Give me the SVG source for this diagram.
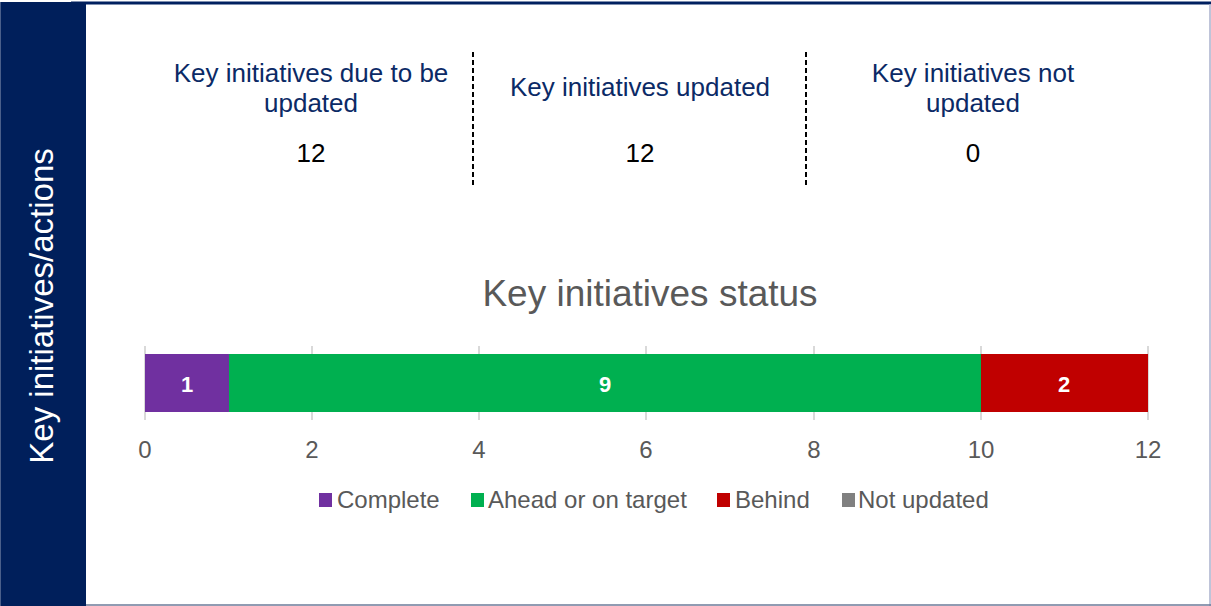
<svg xmlns="http://www.w3.org/2000/svg" width="1211" height="606" viewBox="0 0 1211 606">
<style>
.hdr{font-family:"Liberation Sans",Arial,sans-serif;font-size:26px;fill:#0b2a66;text-anchor:middle}
.num{font-family:"Liberation Sans",Arial,sans-serif;font-size:26px;fill:#000;text-anchor:middle}
.ax{font-family:"Liberation Sans",Arial,sans-serif;font-size:24px;fill:#595959;text-anchor:middle}
.lg{font-family:"Liberation Sans",Arial,sans-serif;font-size:24px;fill:#595959}
.bl{font-family:"Liberation Sans",Arial,sans-serif;font-size:22px;font-weight:bold;fill:#fff;text-anchor:middle}
.grid{stroke:#d9d9d9;stroke-width:2}
.dash{stroke:#000;stroke-width:2;stroke-dasharray:5 3}
</style>
<rect x="0" y="0" width="1211" height="606" fill="#fff"/>
<g id="frame">
<line x1="71" y1="3" x2="1211" y2="3" stroke="#002060" stroke-width="3"/>
<line x1="1210" y1="4" x2="1210" y2="606" stroke="#aab1cc" stroke-width="1.5"/>
<line x1="86" y1="605" x2="1211" y2="605" stroke="#6b7a99" stroke-width="1.5"/>
<rect x="0" y="2" width="86" height="604" fill="#001f5b"/>
<line x1="0.5" y1="2" x2="0.5" y2="606" stroke="#4a5f8a" stroke-width="1"/>
<text transform="translate(53,306) rotate(-90)" font-family="'Liberation Sans',Arial,sans-serif" font-size="33" fill="#fff" text-anchor="middle">Key initiatives/actions</text>
</g>
<g id="kpi-due">
<text class="hdr" x="311" y="82">Key initiatives due to be</text>
<text class="hdr" x="311" y="112">updated</text>
<text class="num" x="311" y="162">12</text>
</g>
<g id="kpi-updated">
<text class="hdr" x="640" y="96">Key initiatives updated</text>
<text class="num" x="640" y="162">12</text>
</g>
<g id="kpi-not">
<text class="hdr" x="973" y="82">Key initiatives not</text>
<text class="hdr" x="973" y="112">updated</text>
<text class="num" x="973" y="162">0</text>
</g>
<g id="dividers">
<line class="dash" x1="473" y1="52" x2="473" y2="185"/>
<line class="dash" x1="806" y1="52" x2="806" y2="185"/>
</g>
<g id="chart">
<text x="650" y="306" font-family="'Liberation Sans',Arial,sans-serif" font-size="37" fill="#595959" text-anchor="middle">Key initiatives status</text>
<g id="gridlines">
<line class="grid" x1="145" y1="346" x2="145" y2="420"/>
<line class="grid" x1="312" y1="346" x2="312" y2="420"/>
<line class="grid" x1="479" y1="346" x2="479" y2="420"/>
<line class="grid" x1="646" y1="346" x2="646" y2="420"/>
<line class="grid" x1="814" y1="346" x2="814" y2="420"/>
<line class="grid" x1="981" y1="346" x2="981" y2="420"/>
<line class="grid" x1="1148" y1="346" x2="1148" y2="420"/>
</g>
<rect x="145" y="354" width="84" height="58" fill="#7030a0"/>
<rect x="229" y="354" width="752" height="58" fill="#00b050"/>
<rect x="981" y="354" width="167" height="58" fill="#c00000"/>
<text class="bl" x="187" y="392">1</text>
<text class="bl" x="605" y="392">9</text>
<text class="bl" x="1064" y="392">2</text>
<text class="ax" x="145" y="458">0</text>
<text class="ax" x="312" y="458">2</text>
<text class="ax" x="479" y="458">4</text>
<text class="ax" x="646" y="458">6</text>
<text class="ax" x="814" y="458">8</text>
<text class="ax" x="981" y="458">10</text>
<text class="ax" x="1148" y="458">12</text>
</g>
<g id="legend">
<rect x="319" y="493" width="13" height="14" fill="#7030a0"/>
<text class="lg" x="337" y="508">Complete</text>
<rect x="471" y="493" width="13" height="14" fill="#00b050"/>
<text class="lg" x="488" y="508">Ahead or on target</text>
<rect x="717" y="493" width="13" height="14" fill="#c00000"/>
<text class="lg" x="735" y="508">Behind</text>
<rect x="842" y="493" width="13" height="14" fill="#808080"/>
<text class="lg" x="858" y="508">Not updated</text>
</g>
</svg>
